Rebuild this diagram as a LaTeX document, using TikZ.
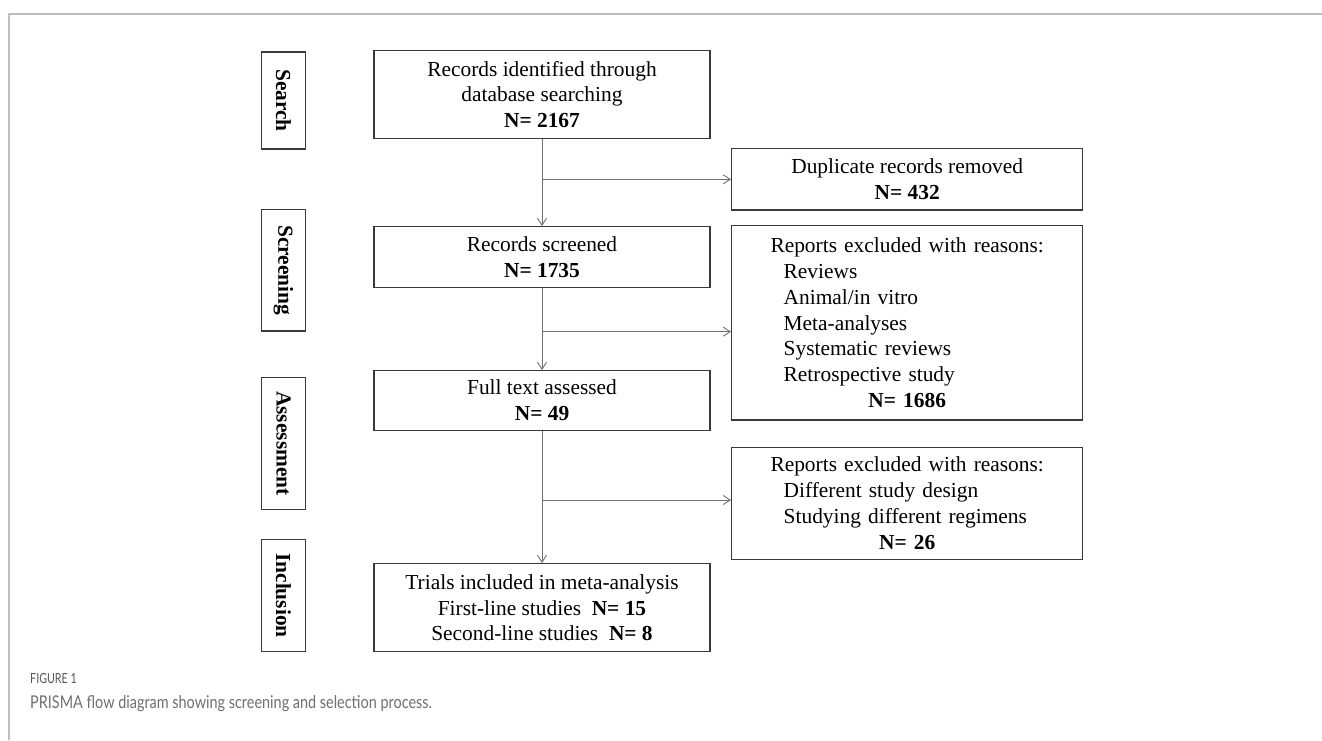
\documentclass[tikz,border=0pt]{standalone}
\usepackage{graphicx}
\usepackage{fontspec}
\setmainfont{Liberation Serif}
\newfontfamily\capfont{Lato}
\usetikzlibrary{arrows.meta}
\definecolor{boxline}{HTML}{3A3A3A}
\definecolor{arrline}{HTML}{707070}
\definecolor{framec}{HTML}{BDBDBD}
\definecolor{capgray}{HTML}{707070}
\definecolor{figgray}{HTML}{555555}
\begin{document}
\begin{tikzpicture}[x=1pt,y=-1pt,
  box/.style={draw=boxline, line width=1.3pt, inner sep=0pt, font=\fontsize{21.4}{25.8}\selectfont, align=center},
  mbox/.style={box, minimum width=336pt},
  rbox/.style={box, minimum width=351pt},
  lbox/.style={box, minimum width=351pt, text width=351pt, align=left},
  stage/.style={box, rotate=-90, font=\fontsize{21.4}{25.8}\selectfont\bfseries, minimum height=44pt},
  arr/.style={draw=arrline, line width=0.9pt, -{Straight Barb[length=7pt,width=9pt]}}]
\useasboundingbox (0,0) rectangle (1322,740);
\fill[white] (0,0) rectangle (1322,740);
\draw[framec, line width=1.5pt] (9,740) -- (9,14) -- (1322,14);
% stage labels
\node[stage, minimum width=97pt] (s1) at (283.5,100.5) {Search};
\node[stage, minimum width=121.7pt] (s2) at (283.5,270.2) {Screening};
\node[stage, minimum width=131.6pt] (s3) at (283.5,443.5) {Assessment};
\node[stage, minimum width=112.4pt] (s4) at (283.5,595.5) {Inclusion};
% main column
\node[mbox, minimum height=87.6pt] (b1) at (542,94.5) {Records identified through\\database searching\\\textbf{N= 2167}};
\node[mbox, minimum height=60.6pt] (b2) at (542,257) {Records screened\\\textbf{N= 1735}};
\node[mbox, minimum height=59.6pt] (b3) at (542,400.5) {Full text assessed\\\textbf{N= 49}};
\node[mbox, minimum height=88pt] (b4) at (542,607.7) {Trials included in meta-analysis\\First-line studies\ \ \textbf{N= 15}\\Second-line studies\ \ \textbf{N= 8}};
% right column
\node[rbox, minimum height=61.7pt] (r1) at (907.2,179.15) {Duplicate records removed\\\textbf{N= 432}};
\node[lbox, minimum height=194.3pt] (r2) at (907.2,322.85) {\makebox[351pt][c]{Reports excluded with reasons:}\\
\hspace*{52pt}Reviews\\
\hspace*{52pt}Animal/in vitro\\
\hspace*{52pt}Meta-analyses\\
\hspace*{52pt}Systematic reviews\\
\hspace*{52pt}Retrospective study\\
\makebox[351pt][c]{\textbf{N= 1686}}};
\node[lbox, minimum height=112pt] (r3) at (907.2,503.3) {\makebox[351pt][c]{Reports excluded with reasons:}\\
\hspace*{52pt}Different study design\\
\hspace*{52pt}Studying different regimens\\
\makebox[351pt][c]{\textbf{N= 26}}};
% connectors
\coordinate (j1) at (542,179.3);
\coordinate (j2) at (542,331.7);
\coordinate (j3) at (542,500);
\draw[arr] (b1.south) -- (b2.north);
\draw[arr] (j1) -- (j1 -| r1.west);
\draw[arr] (b2.south) -- (b3.north);
\draw[arr] (j2) -- (j2 -| r2.west);
\draw[arr] (b3.south) -- (b4.north);
\draw[arr] (j3) -- (j3 -| r3.west);
% caption
\node[anchor=base west, font=\capfont\fontsize{13.9}{16}\selectfont, text=figgray, inner sep=0pt] (fig) at (30,683) {\scalebox{0.77}[1]{FIGURE 1}};
\node[anchor=base west, font=\capfont\fontsize{17.6}{20}\selectfont, text=capgray, inner sep=0pt] (cap) at (30,708) {\scalebox{0.82}[1]{PRISMA flow diagram showing screening and selection process.}};
\end{tikzpicture}
\end{document}
